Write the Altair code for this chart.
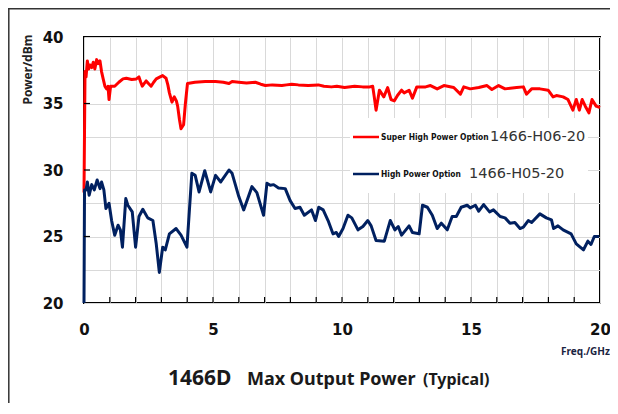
import altair as alt
import pandas as pd

# ---- data ----
red_f = [0.0, 0.04, 0.08, 0.13, 0.18, 0.23, 0.30, 0.36, 0.42, 0.49, 0.55, 0.62, 0.68, 0.75, 0.81,
         0.87, 0.93, 0.97, 1.03, 1.19, 1.35, 1.51, 1.64, 1.85, 2.03, 2.13, 2.20, 2.26, 2.33, 2.41,
         2.50, 2.60, 2.70, 2.80, 2.95, 3.05, 3.18, 3.25, 3.31, 3.41, 3.50, 3.58, 3.63, 3.70, 3.76,
         3.86, 3.93, 4.01, 4.30, 4.70, 5.10, 5.40, 5.62, 5.74, 6.00, 6.30, 6.64, 6.85, 7.03, 7.30,
         7.67, 7.85, 8.05, 8.31, 8.69, 9.08, 9.30, 9.59, 9.80, 10.10, 10.49, 10.80, 11.07, 11.19,
         11.25, 11.32, 11.45, 11.62, 11.77, 11.90, 12.03, 12.15, 12.31, 12.41, 12.60, 12.73, 12.90,
         13.24, 13.43, 13.69, 13.95, 14.33, 14.59, 14.72, 14.97, 15.30, 15.62, 15.81, 16.07, 16.32,
         16.77, 17.03, 17.15, 17.35, 17.67, 17.99, 18.18, 18.31, 18.57, 18.76, 18.95, 19.08, 19.20,
         19.31, 19.43, 19.57, 19.69, 19.85, 20.0]
red_p = [28.3, 37.4, 37.0, 38.2, 37.6, 37.9, 37.7, 38.1, 37.6, 38.3, 38.0, 38.2, 37.4, 36.8, 36.3,
         36.1, 36.3, 35.3, 36.3, 36.3, 36.6, 36.85, 36.9, 36.8, 36.85, 37.0, 36.6, 36.3, 36.5, 36.7,
         36.5, 36.3, 36.6, 36.85, 37.0, 37.1, 36.9, 36.4, 35.8, 35.1, 35.5, 35.2, 34.8, 33.8, 33.1,
         33.4, 35.0, 36.5, 36.6, 36.65, 36.65, 36.6, 36.5, 36.65, 36.6, 36.55, 36.6, 36.45, 36.35, 36.4,
         36.35, 36.4, 36.45, 36.4, 36.35, 36.4, 36.3, 36.25, 36.3, 36.2, 36.3, 36.25, 36.25, 36.3,
         35.5, 34.5, 36.0, 35.5, 36.2, 35.3, 35.2, 35.6, 36.0, 35.8, 36.0, 35.4, 36.25,
         36.25, 36.35, 36.1, 36.35, 36.2, 35.7, 36.25, 36.1, 36.2, 36.35, 36.05, 36.35, 36.1,
         36.2, 36.25, 35.7, 36.1, 36.1, 36.0, 35.5, 35.6, 35.5, 35.3, 34.5, 35.3, 34.5,
         35.3, 34.8, 34.3, 35.3, 34.8, 34.7]

blue_f = [0.0, 0.02, 0.08, 0.13, 0.20, 0.30, 0.40, 0.51, 0.62, 0.68, 0.77, 0.85, 0.97, 1.07, 1.19,
          1.32, 1.41, 1.49, 1.62, 1.70, 1.87, 2.00, 2.13, 2.28, 2.47, 2.67, 2.80, 2.92, 3.05, 3.15,
          3.31, 3.57, 3.76, 3.99, 4.18, 4.31, 4.46, 4.68, 4.91, 5.10, 5.30, 5.62, 5.74, 6.00, 6.19,
          6.51, 6.70, 6.96, 7.09, 7.22, 7.35, 7.54, 7.80, 7.99, 8.18, 8.37, 8.54, 8.82, 8.97, 9.10,
          9.27, 9.46, 9.65, 9.78, 9.87, 10.04, 10.23, 10.38, 10.62, 10.81, 11.00, 11.13, 11.32, 11.64,
          11.87, 12.05, 12.18, 12.31, 12.60, 12.73, 12.99, 13.12, 13.31, 13.50, 13.69, 13.85, 14.08,
          14.27, 14.43, 14.62, 14.85, 14.97, 15.17, 15.30, 15.49, 15.72, 15.87, 16.13, 16.32, 16.51,
          16.70, 16.90, 17.03, 17.22, 17.35, 17.67, 17.92, 18.12, 18.20, 18.37, 18.57, 18.88, 19.08,
          19.36, 19.53, 19.65, 19.78, 19.97]
blue_p = [20.0, 28.5, 28.5, 29.1, 28.1, 28.9, 28.5, 29.25, 28.6, 29.1, 28.5, 27.1, 27.5, 26.2, 25.1,
          25.85, 25.5, 24.2, 27.85, 27.35, 26.85, 24.2, 26.5, 27.05, 26.4, 26.2, 24.45, 22.3, 24.2, 24.0,
          25.2, 25.6, 25.1, 24.2, 29.75, 29.6, 28.35, 29.95, 28.35, 29.6, 29.1, 30.0, 29.75, 28.0, 27.0,
          28.75, 28.3, 26.6, 29.0, 28.85, 28.9, 28.65, 28.6, 27.7, 27.1, 27.2, 26.6, 27.0, 26.2, 27.2,
          27.0, 26.2, 25.2, 25.3, 25.0, 25.6, 26.6, 26.4, 25.5, 25.75, 26.2, 25.8, 24.7, 24.65,
          26.2, 25.5, 25.75, 25.1, 25.8, 25.3, 25.2, 27.35, 27.2, 26.6, 25.6, 26.0, 25.5,
          26.5, 26.5, 27.2, 27.35, 27.15, 27.35, 26.9, 27.4, 26.85, 27.0, 26.5, 26.4, 26.0,
          26.05, 25.6, 25.7, 26.2, 26.05, 26.7, 26.4, 26.25, 25.6, 25.8, 25.5, 25.2, 24.45,
          24.0, 24.65, 24.4, 25.0, 25.0]

series_names = ["Super High Power Option", "High Power Option"]
series_codes = ["1466-H06-20", "1466-H05-20"]
series_colors = ["#ff0000", "#002060"]

x_grid = list(range(0, 21))
y_grid = [20, 22.5, 25, 27.5, 30, 32.5, 35, 37.5, 40]
x_ticks = list(range(1, 20))
y_ticks = [25, 30, 35]

title_parts = ["1466D", "Max Output Power", "(Typical)"]

W, H = 516, 266

df = pd.DataFrame({
    "f": red_f + blue_f,
    "p": red_p + blue_p,
    "series": [series_names[0]] * len(red_f) + [series_names[1]] * len(blue_f),
    "i": list(range(len(red_f))) + list(range(len(blue_f))),
})

xscale = alt.Scale(domain=[0, 20], nice=False, zero=False)
yscale = alt.Scale(domain=[20, 40], nice=False, zero=False)

xaxis = alt.Axis(values=x_grid, grid=True, gridColor="#d9d9d9", gridWidth=1,
                 ticks=False, tickSize=0, domain=False,
                 labelExpr="datum.value % 5 === 0 ? datum.label : ''",
                 labelFont="DejaVu Sans", labelFontWeight="bold", labelFontSize=15,
                 labelColor="#111", labelPadding=19, labelFlush=False,
                 title="Freq./GHz", titleFont="Noto Sans", titleFontWeight="bold",
                 titleFontSize=10, titleColor="#1a2340", titleX=501, titleY=51,
                 titleAlign="center", titleBaseline="alphabetic")
yaxis = alt.Axis(values=y_grid, grid=True, gridColor="#d9d9d9", gridWidth=1,
                 ticks=False, tickSize=0, domain=False,
                 labelExpr="datum.value % 5 === 0 ? datum.label : ''",
                 labelFont="DejaVu Sans", labelFontWeight="bold", labelFontSize=15,
                 labelColor="#111", labelPadding=21, labelFlush=False,
                 title="Power/dBm", titleFont="Noto Sans", titleFontWeight="bold",
                 titleFontSize=12, titleColor="#222", titleAngle=270,
                 titleX=-57, titleY=32, titleAlign="center", titleBaseline="middle")

lines = alt.Chart(df).mark_line(strokeWidth=3, strokeJoin="round").encode(
    x=alt.X("f:Q", scale=xscale, axis=xaxis),
    y=alt.Y("p:Q", scale=yscale, axis=yaxis),
    color=alt.Color("series:N", scale=alt.Scale(domain=series_names, range=series_colors), legend=None),
    order="i:Q",
)

xt = alt.Chart(pd.DataFrame({"f": x_ticks})).mark_rule(color="#000", strokeWidth=1.2).encode(
    x=alt.X("f:Q", scale=xscale, axis=xaxis),
    y=alt.value(H), y2=alt.value(H - 6),
)
yt = alt.Chart(pd.DataFrame({"p": y_ticks})).mark_rule(color="#000", strokeWidth=1.2).encode(
    y=alt.Y("p:Q", scale=yscale, axis=yaxis),
    x=alt.value(0), x2=alt.value(6),
)

# legend box (covers gridlines like the original)
box = alt.Chart(pd.DataFrame({"a": [0]})).mark_rect(color="white").encode(
    x=alt.value(266), x2=alt.value(504), y=alt.value(81), y2=alt.value(156),
)

legend_layers = []
leg_y = [100, 137]
code_x = [406, 385]
for k in range(2):
    legend_layers.append(
        alt.Chart(pd.DataFrame({"a": [0]})).mark_rule(color=series_colors[k], strokeWidth=2.5).encode(
            x=alt.value(269), x2=alt.value(295), y=alt.value(leg_y[k]))
    )
    legend_layers.append(
        alt.Chart(pd.DataFrame({"t": [series_names[k]]})).mark_text(
            align="left", baseline="middle",
            font="DejaVu Sans Condensed, Liberation Sans, sans-serif", fontWeight="bold",
            fontSize=8.4, color="#111").encode(
            x=alt.value(297), y=alt.value(leg_y[k]), text="t:N")
    )
    legend_layers.append(
        alt.Chart(pd.DataFrame({"t": [series_codes[k]]})).mark_text(
            align="left", baseline="middle", font="DejaVu Sans", fontSize=14.5,
            color="#333").encode(
            x=alt.value(code_x[k]), y=alt.value(leg_y[k]), text="t:N")
    )

title_x = [84, 163, 339]
title_sizes = [21, 18, 16]
title_layers = []
for k in range(3):
    title_layers.append(
        alt.Chart(pd.DataFrame({"t": [title_parts[k]]})).mark_text(
            align="left", baseline="alphabetic", font="Noto Sans", fontWeight="bold",
            fontSize=title_sizes[k], color="#1a1a1a").encode(
            x=alt.value(title_x[k]), y=alt.value(348), text="t:N")
    )

frame_top = alt.Chart(pd.DataFrame({"a": [0]})).mark_rule(color="#333", strokeWidth=1.5).encode(
    x=alt.value(-76), x2=alt.value(W + 30), y=alt.value(-28.2))
frame_left = alt.Chart(pd.DataFrame({"a": [0]})).mark_rule(color="#333", strokeWidth=1.5).encode(
    x=alt.value(-75.2), y=alt.value(-29), y2=alt.value(H + 120))

chart = alt.layer(
    lines, xt, yt, box, *legend_layers, *title_layers, frame_top, frame_left
).properties(
    width=W, height=H,
    padding={"left": 76, "top": 29, "right": 10, "bottom": 100},
    autosize=alt.AutoSizeParams(type="none"),
    background="white",
).configure_view(stroke="#000", strokeWidth=2)

chart.save("out.html", embed_options={"renderer": "svg", "actions": False})
